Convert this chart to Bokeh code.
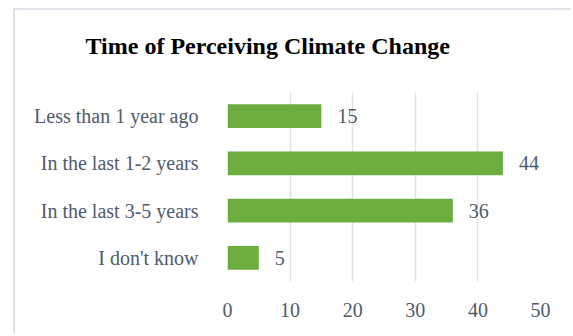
from bokeh.plotting import figure
from bokeh.models import ColumnDataSource, LabelSet, Title
from bokeh.embed import file_html
from bokeh.resources import INLINE

categories = ["Less than 1 year ago", "In the last 1-2 years", "In the last 3-5 years", "I don't know"]
values = [15, 44, 36, 5]
ticks = [0, 10, 20, 30, 40, 50]
title_text = "Time of Perceiving Climate Change"

TXT = "#4F5B6D"
FONT = "Liberation Serif"

src = ColumnDataSource(dict(cat=categories, val=values, lab=[str(v) for v in values]))

p = figure(y_range=list(reversed(categories)), x_range=(0, 50),
           width=558, height=326, output_backend="svg", toolbar_location=None,
           min_border_left=212, min_border_right=33, min_border_top=82, min_border_bottom=55)
p.margin = (8, 0, 0, 13)
p.styles = {"border-left": "2px solid #DDE2E8", "border-top": "2px solid #DDE2E8"}
p.title = None

p.hbar(y="cat", right="val", left=0, height=0.5, source=src, fill_color="#6CAD3F", line_color=None)

labels = LabelSet(x="val", y="cat", text="lab", source=src, x_offset=16, y_offset=0,
                  text_baseline="middle", text_font=FONT, text_font_size="20px", text_color=TXT)
p.add_layout(labels)

t = Title(text=title_text + "\n ", align="left", offset=-142, standoff=16,
          text_font=FONT, text_font_size="24px", text_font_style="bold", text_color="#000000")
p.add_layout(t, "above")

p.outline_line_color = None
p.ygrid.grid_line_color = None
p.xgrid.grid_line_color = "#DDE2E8"
p.xgrid.grid_line_width = 1.5
p.xaxis.ticker = ticks
for ax in (p.xaxis[0], p.yaxis[0]):
    ax.axis_line_color = None
    ax.major_tick_line_color = None
    ax.minor_tick_line_color = None
    ax.major_label_text_font = FONT
    ax.major_label_text_color = TXT
p.xaxis.major_label_text_font_size = "20px"
p.xaxis.major_label_standoff = 15
p.yaxis.major_label_text_font_size = "20px"
p.yaxis.major_label_standoff = 23

open("out.html", "w").write(file_html(p, INLINE))
